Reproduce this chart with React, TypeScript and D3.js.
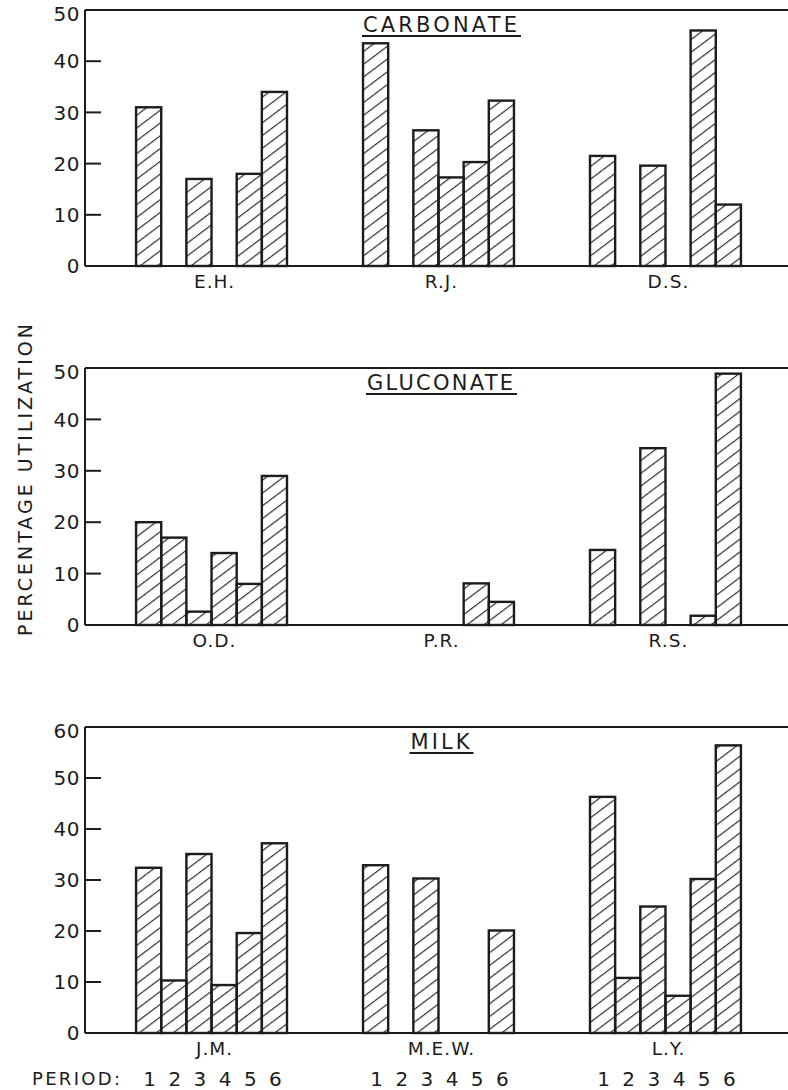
import React from 'react';
import * as d3 from 'd3';

const periods = ['1', '2', '3', '4', '5', '6'];

const carbonateSubjects = ['E.H.', 'R.J.', 'D.S.'];
const carbonateValues = [
  [31, 0, 17, 0, 18, 34],
  [43.5, 0, 26.5, 17.3, 20.3, 32.3],
  [21.5, 0, 19.6, 0, 46, 12],
];
const carbonateTicks = [0, 10, 20, 30, 40, 50];

const gluconateSubjects = ['O.D.', 'P.R.', 'R.S.'];
const gluconateValues = [
  [20, 17, 2.6, 14, 8, 29],
  [0, 0, 0, 0, 8.1, 4.5],
  [14.6, 0, 34.4, 0, 1.8, 48.9],
];
const gluconateTicks = [0, 10, 20, 30, 40, 50];

const milkSubjects = ['J.M.', 'M.E.W.', 'L.Y.'];
const milkValues = [
  [32.4, 10.3, 35.1, 9.4, 19.6, 37.2],
  [32.9, 0, 30.3, 0, 0, 20.1],
  [46.3, 10.8, 24.8, 7.3, 30.2, 56.4],
];
const milkTicks = [0, 10, 20, 30, 40, 50, 60];

const panels = [
  { title: 'CARBONATE', titleW: 154, subjects: carbonateSubjects, values: carbonateValues, ticks: carbonateTicks, top: 10, bottom: 266 },
  { title: 'GLUCONATE', titleW: 146, subjects: gluconateSubjects, values: gluconateValues, ticks: gluconateTicks, top: 368, bottom: 625 },
  { title: 'MILK', titleW: 59, subjects: milkSubjects, values: milkValues, ticks: milkTicks, top: 727, bottom: 1033 },
];

const ink = '#1c1c1c';
const font = 'DejaVu Sans, sans-serif';
const left = 85;
const right = 788;

// groups of six bars, same spacing in every panel
const xGroup = d3.scaleBand<number>()
  .domain([0, 1, 2])
  .range([left, 792])
  .paddingInner(0.335)
  .paddingOuter(0.225);

const xBar = d3.scaleBand<string>()
  .domain(periods)
  .range([0, xGroup.bandwidth()])
  .padding(0);

function Panel({ p }) {
  const yMax = d3.max(p.ticks);
  const y = d3.scaleLinear()
    .domain([0, yMax])
    .range([p.bottom, p.top]);
  const titleX = 440;
  const titleY = p.top + 22;
  return (
    <g>
      {/* frame */}
      <line x1={left} x2={right} y1={p.top} y2={p.top} stroke={ink} strokeWidth={2} />
      <line x1={left} x2={left} y1={p.top} y2={p.bottom} stroke={ink} strokeWidth={2} />
      <line x1={left} x2={right} y1={p.bottom} y2={p.bottom} stroke={ink} strokeWidth={1.8} />
      {p.ticks.map((t) => (
        <g key={t}>
          {t > 0 && t < yMax && (
            <line x1={left} x2={left + 16} y1={y(t)} y2={y(t)} stroke={ink} strokeWidth={2} />
          )}
          <text x={80} y={y(t) + (t === yMax ? 4 : 0)} dy="0.36em" textAnchor="end" fontSize={20} fill={ink}
            fontFamily={font} letterSpacing={0.5}>{t}</text>
        </g>
      ))}
      <text x={titleX} y={titleY} textAnchor="middle" fontSize={21} fill={ink}
        fontFamily={font} textLength={p.titleW} lengthAdjust="spacing">{p.title}</text>
      <line x1={titleX - p.titleW / 2 - 1} x2={titleX + p.titleW / 2 + 4} y1={titleY + 4} y2={titleY + 4}
        stroke={ink} strokeWidth={2} />
      {p.values.map((vals, gi) => (
        <g key={gi} transform={`translate(${xGroup(gi)},0)`}>
          {vals.map((v, i) => (
            <rect key={i}
              x={xBar(periods[i])}
              y={y(v)}
              width={xBar.bandwidth()}
              height={p.bottom - y(v)}
              fill="url(#hatch)"
              stroke={ink}
              strokeWidth={2.4}
            />
          ))}
          <text x={xGroup.bandwidth() / 2 + 3} y={p.bottom + 22} textAnchor="middle"
            fontSize={18.5} fill={ink} fontFamily={font} letterSpacing={1}>{p.subjects[gi]}</text>
        </g>
      ))}
    </g>
  );
}

export default function App() {
  return (
    <svg width={788} height={1090} style={{ position: 'absolute', left: 0, top: 0, background: '#fff' }}>
      <defs>
        <pattern id="hatch" patternUnits="userSpaceOnUse" width={10} height={10.2}
          patternTransform="rotate(-37)">
          <line x1={0} x2={10} y1={0.6} y2={0.6} stroke={ink} strokeWidth={1.1} />
        </pattern>
      </defs>
      <rect width={788} height={1090} fill="#fff" />
      {panels.map((p) => <Panel key={p.title} p={p} />)}
      <text transform="translate(32,480) rotate(-90)" textAnchor="middle" fontSize={19}
        fill={ink} fontFamily={font} textLength={312} lengthAdjust="spacing">PERCENTAGE UTILIZATION</text>
      <text x={32} y={1085} fontSize={18} fill={ink} fontFamily={font}
        textLength={88} lengthAdjust="spacing">PERIOD:</text>
      {xGroup.domain().map((gi) => periods.map((per) => (
        <text key={`${gi}-${per}`} x={xGroup(gi) + xBar(per) + xBar.bandwidth() / 2 + 1} y={1086}
          textAnchor="middle" fontSize={20} fill={ink} fontFamily={font}>{per}</text>
      )))}
    </svg>
  );
}
